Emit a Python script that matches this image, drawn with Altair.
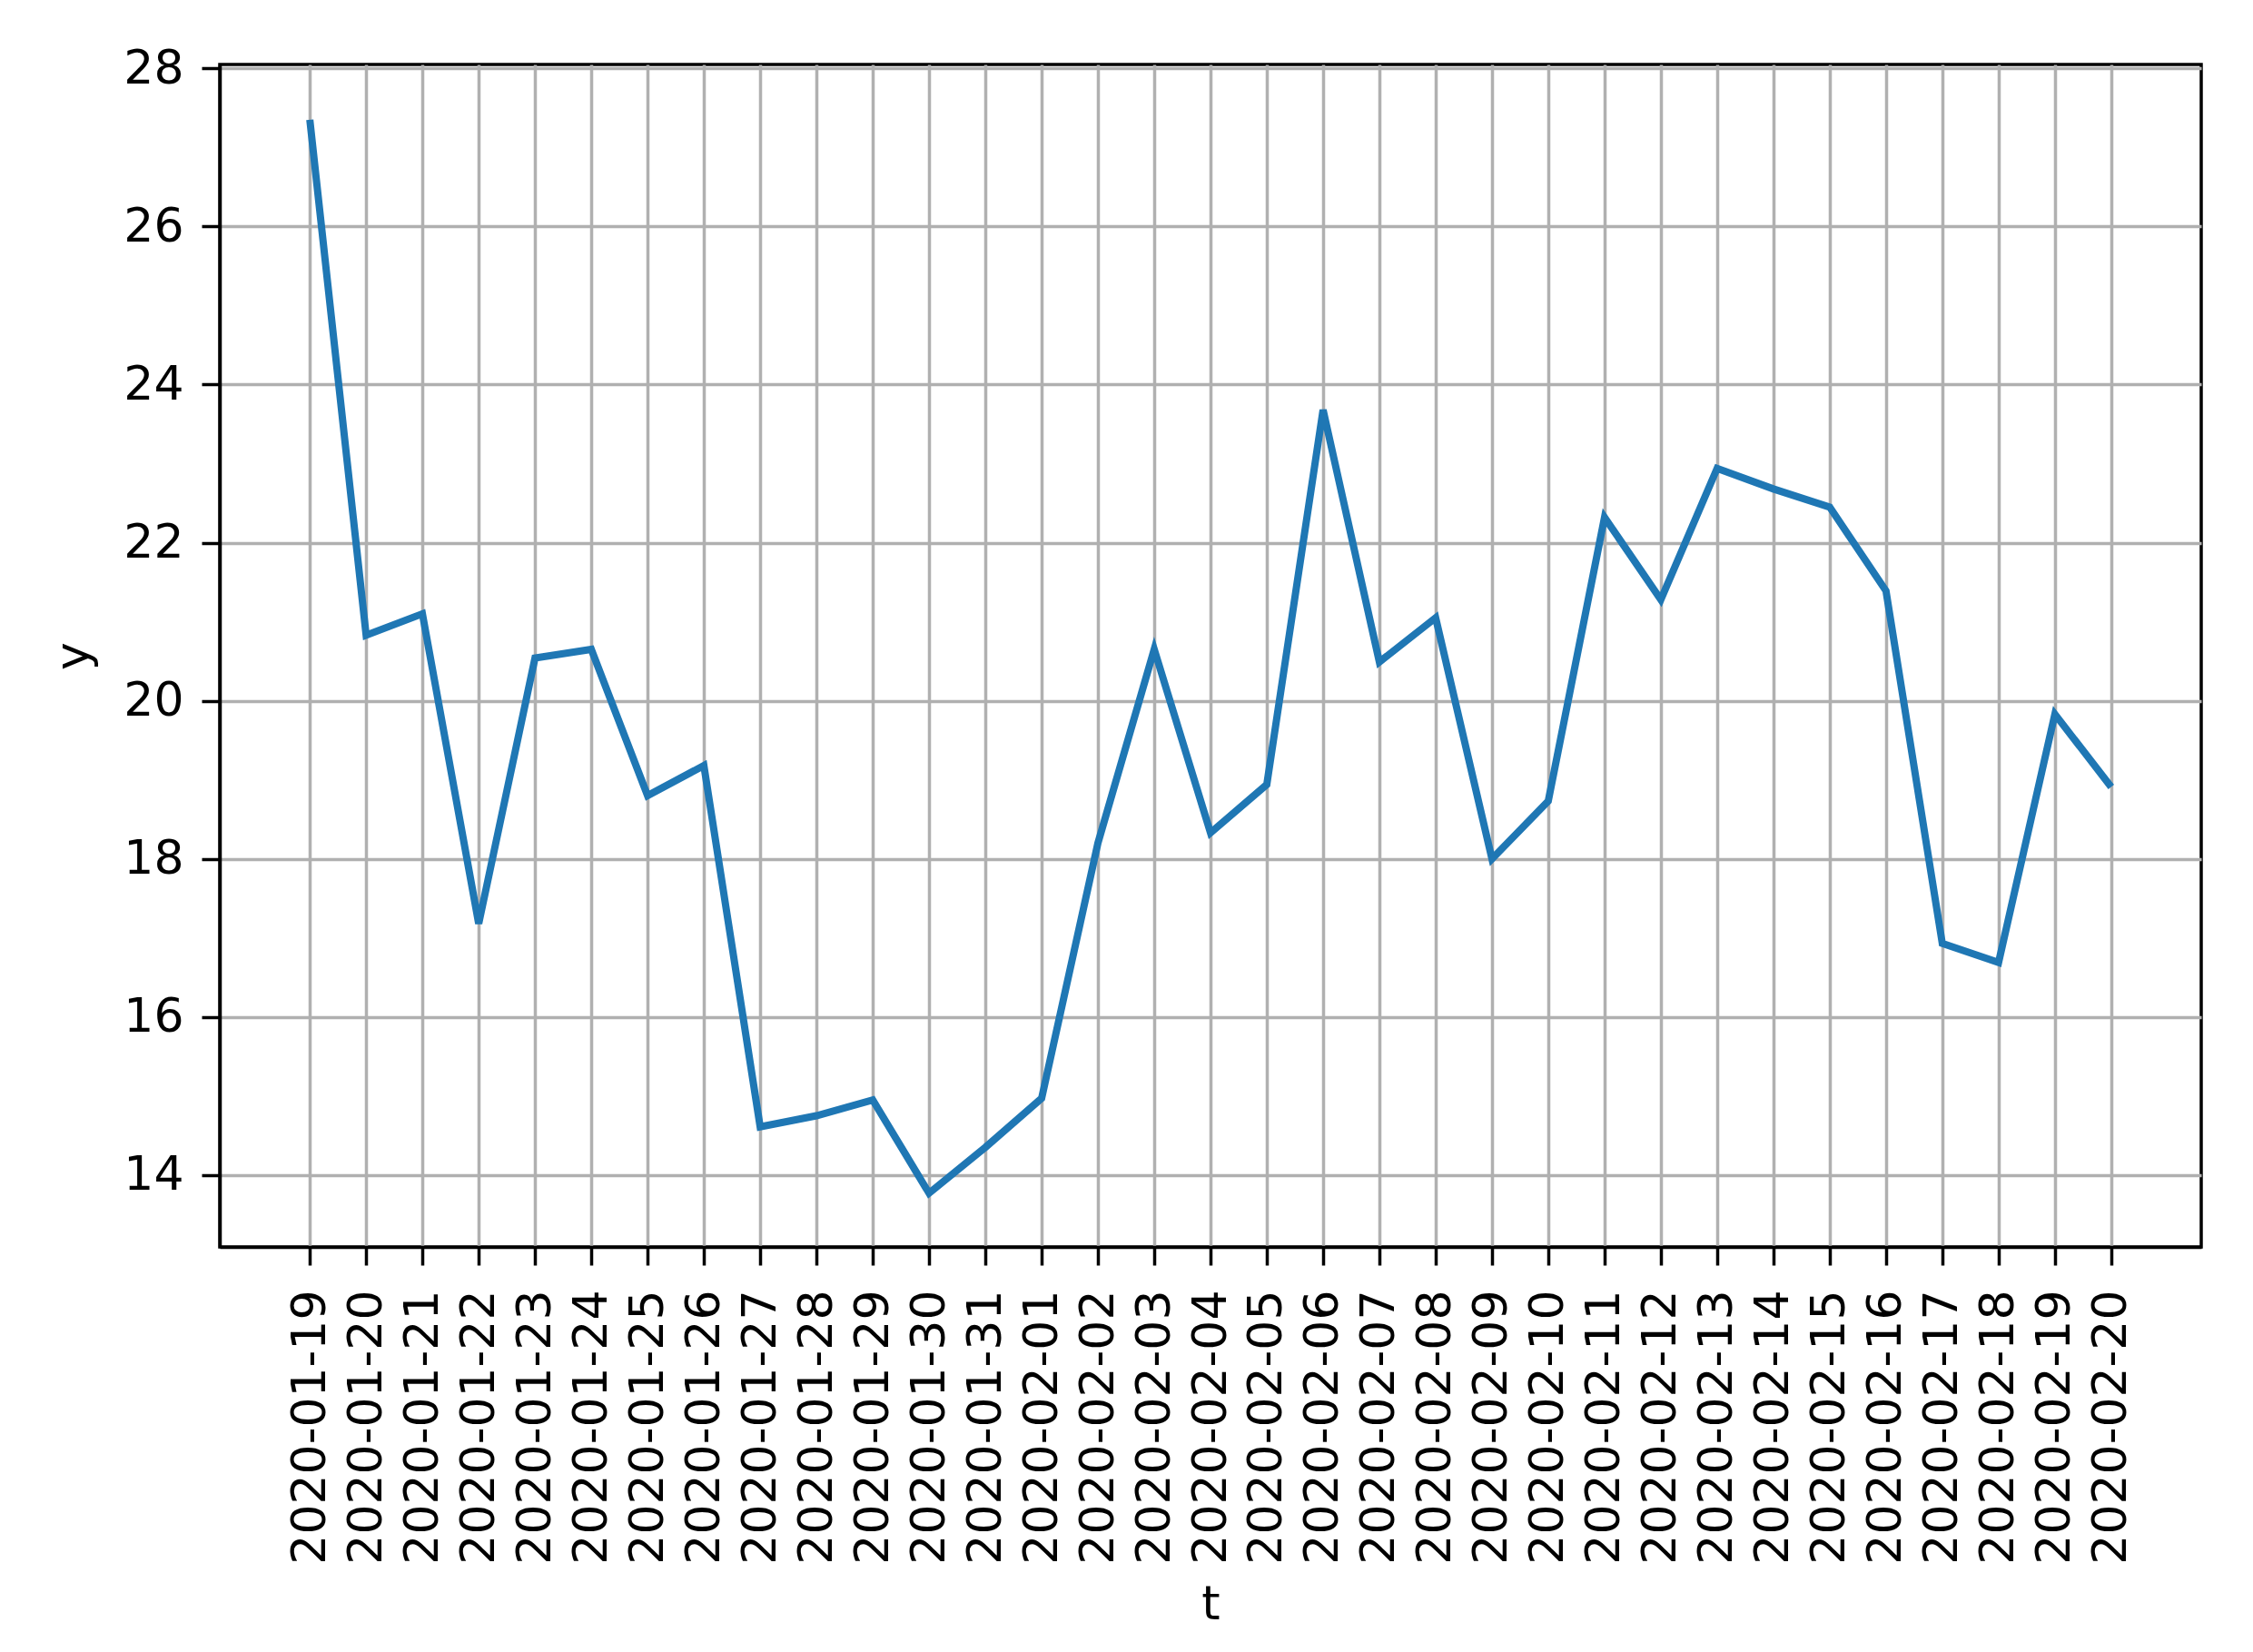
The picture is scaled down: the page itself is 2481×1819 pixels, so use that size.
import altair as alt
import pandas as pd
import json

dates = [
    "2020-01-19", "2020-01-20", "2020-01-21", "2020-01-22", "2020-01-23",
    "2020-01-24", "2020-01-25", "2020-01-26", "2020-01-27", "2020-01-28",
    "2020-01-29", "2020-01-30", "2020-01-31", "2020-02-01", "2020-02-02",
    "2020-02-03", "2020-02-04", "2020-02-05", "2020-02-06", "2020-02-07",
    "2020-02-08", "2020-02-09", "2020-02-10", "2020-02-11", "2020-02-12",
    "2020-02-13", "2020-02-14", "2020-02-15", "2020-02-16", "2020-02-17",
    "2020-02-18", "2020-02-19", "2020-02-20",
]
values = [
    27.35, 20.83, 21.10, 17.18, 20.54,
    20.65, 18.80, 19.18, 14.61, 14.75,
    14.95, 13.77, 14.35, 14.97, 18.20,
    20.65, 18.33, 18.94, 23.68, 20.49,
    21.05, 18.00, 18.73, 22.32, 21.28,
    22.94, 22.68, 22.45, 21.39, 16.93,
    16.69, 19.83, 18.91,
]
y_ticks = [14, 16, 18, 20, 22, 24, 26, 28]

n = len(dates)
df = pd.DataFrame({"i": list(range(n)), "t": dates, "y": values})
margin = 0.05 * (n - 1)

FONT = "DejaVu Sans"
FS = 52

label_expr = json.dumps(dates).replace('"', "'") + "[round(datum.value)]"

chart = (
    alt.Chart(df)
    .mark_line(color="#1f77b4", strokeWidth=8)
    .encode(
        x=alt.X(
            "i:Q",
            scale=alt.Scale(domain=[-margin, n - 1 + margin], nice=False, zero=False),
            axis=alt.Axis(
                title="t",
                values=list(range(n)),
                labelExpr=label_expr,
                labelAngle=270,
                labelAlign="right",
                labelBaseline="middle",
                labelPadding=27,
                labelLimit=0,
                titleY=393,
                titleBaseline="middle",
            ),
        ),
        y=alt.Y(
            "y:Q",
            scale=alt.Scale(domain=[13.09, 28.05], nice=False, zero=False),
            axis=alt.Axis(title="y", values=y_ticks, labelPadding=20, titlePadding=28),
        ),
        tooltip=["t:N", "y:Q"],
    )
    .properties(
        width=2182,
        height=1302,
        autosize=alt.AutoSizeParams(type="none"),
        padding={"left": 234, "top": 63, "right": 49, "bottom": 438},
    )
    .configure_view(stroke="black", strokeWidth=3.5)
    .configure_axis(
        labelFont=FONT,
        titleFont=FONT,
        labelFontSize=FS,
        titleFontSize=FS,
        titleFontWeight="normal",
        labelColor="black",
        titleColor="black",
        domainColor="black",
        domainWidth=3.5,
        tickColor="black",
        tickWidth=3.5,
        tickSize=20,
        grid=True,
        gridColor="#b0b0b0",
        gridWidth=3.5,
        labelOverlap=False,
        labelFlush=False,
    )
)

chart.save("out.html", embed_options={"renderer": "svg", "actions": False})
